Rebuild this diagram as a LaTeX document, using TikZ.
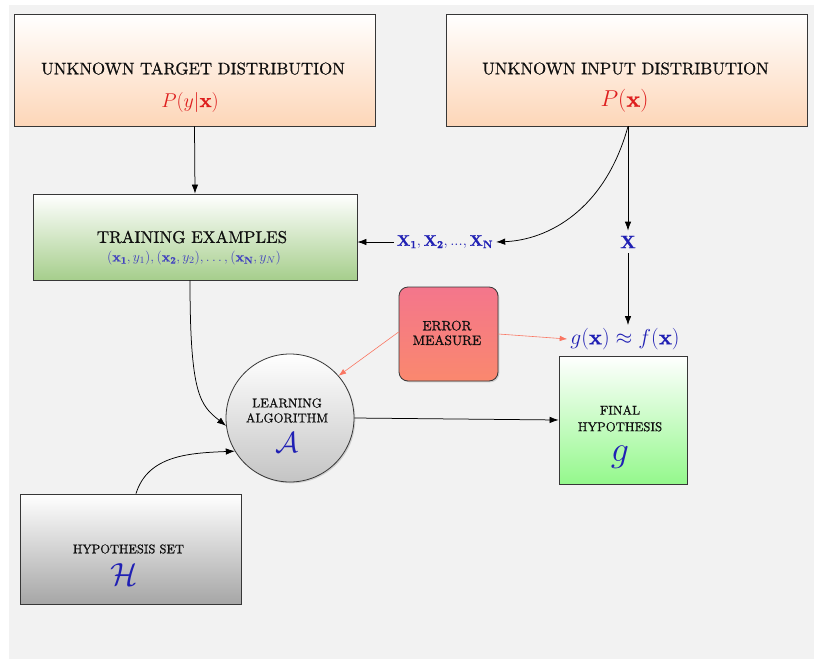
\RequirePackage{fix-cm}
\documentclass[tikz,border=0pt]{standalone}
\usepackage{fontspec}
% keep the 10pt design of Latin Modern at every size, a little heavier
\setmainfont{lmroman10-regular.otf}[FakeBold=0.7, BoldFont=lmroman10-bold.otf]
\usetikzlibrary{shadows,arrows.meta}

\definecolor{bgcol}{RGB}{242,242,242}
\definecolor{edgecol}{RGB}{55,55,55}
\definecolor{peach}{RGB}{253,214,184}
\definecolor{sage}{RGB}{166,206,140}
\definecolor{mint}{RGB}{148,248,140}
\definecolor{silver}{RGB}{196,196,196}
\definecolor{steel}{RGB}{166,166,166}
\definecolor{rosetop}{RGB}{244,118,140}
\definecolor{rosebot}{RGB}{250,136,110}
\definecolor{inkblue}{RGB}{32,32,180}
\definecolor{inkred}{RGB}{222,30,30}
\definecolor{salmon}{RGB}{250,118,98}
\definecolor{ink}{RGB}{15,15,15}

\begin{document}
\begin{tikzpicture}[x=1pt,y=1pt,
  box/.style={draw=edgecol, line width=0.8pt, inner sep=0pt,
    drop shadow={shadow xshift=1.3pt, shadow yshift=-1.3pt, opacity=0.3}},
  txt/.style={inner sep=0pt, align=center, text=ink},
  mtxt/.style={inner sep=0pt},
  arr/.style={-{Latex[length=9pt,width=6.5pt]}, line width=0.75pt, black},
  softarr/.style={-{Latex[length=7.5pt,width=5.5pt]}, line width=0.6pt, salmon},
  title/.style={txt, font=\fontsize{16.8}{20}\selectfont},
  small/.style={txt, font=\fontsize{12.8}{15}\selectfont}]

  % canvas
  \useasboundingbox (0,0) rectangle (814,-659);
  \fill[bgcol] (9,-5) rectangle (814,-659);

  % boxes
  \node[box, top color=white, bottom color=peach, minimum width=361pt, minimum height=112pt]
    (target) at (194.5,-70) {};
  \node[box, top color=white, bottom color=peach, minimum width=361pt, minimum height=112pt]
    (input) at (626.5,-70) {};
  \node[box, top color=white, bottom color=sage, minimum width=324pt, minimum height=86pt]
    (train) at (195,-237) {};
  \node[box, rounded corners=9pt, top color=rosetop, bottom color=rosebot,
    minimum width=99pt, minimum height=94pt] (error) at (448.5,-334) {};
  \node[box, circle, top color=white, bottom color=silver, minimum size=128pt]
    (algo) at (290,-418) {};
  \node[box, top color=white, bottom color=mint, minimum width=128pt, minimum height=128pt]
    (final) at (623,-420) {};
  \node[box, top color=white, bottom color=steel, minimum width=221pt, minimum height=110pt]
    (hypset) at (130.5,-549) {};

  % texts inside the boxes
  \node[title] (targetT) at (193,-68.5) {UNKNOWN TARGET DISTRIBUTION};
  \node[mtxt, text=inkred, font=\fontsize{20}{24}\selectfont] (targetM) at (190,-102) {$P(y|\mathbf{x})$};
  \node[title] (inputT) at (625.5,-68.5) {UNKNOWN INPUT DISTRIBUTION};
  \node[mtxt, text=inkred, font=\fontsize{23}{27}\selectfont] (inputM) at (624.5,-101) {$P(\mathbf{x})$};
  \node[txt, font=\fontsize{17}{20}\selectfont] (trainT) at (192,-237) {TRAINING EXAMPLES};
  \node[mtxt, text=inkblue!85, font=\fontsize{13.9}{16}\selectfont] (trainM) at (194,-258)
    {$(\mathbf{x_1},y_1),(\mathbf{x_2},y_2),\ldots,(\mathbf{x_N},y_N)$};
  \node[txt, font=\fontsize{13.5}{14.7}\selectfont] (errorT) at (447,-333) {ERROR\\MEASURE};
  \node[small] (algoT) at (287,-410.5) {LEARNING\\ALGORITHM};
  \node[mtxt, text=inkblue, font=\fontsize{29}{33}\selectfont] (algoM) at (287,-443) {$\mathcal{A}$};
  \node[txt, font=\fontsize{12.8}{16.5}\selectfont] (finalT) at (620,-418.5) {FINAL\\HYPOTHESIS};
  \node[mtxt, text=inkblue, font=\fontsize{36}{40}\selectfont] (finalM) at (620,-457) {$g$};
  \node[txt, font=\fontsize{12.5}{15}\selectfont] (hypsetT) at (128.5,-549) {HYPOTHESIS SET};
  \node[mtxt, text=inkblue, font=\fontsize{32}{36}\selectfont] (hypsetM) at (124,-575) {$\mathcal{H}$};

  % free labels
  \node[mtxt, text=inkblue, font=\fontsize{15.3}{18}\selectfont, inner sep=3pt] (xs) at (445,-242)
    {$\mathbf{X_1,X_2,...,X_N}$};
  \node[mtxt, text=inkblue, font=\fontsize{18}{21}\selectfont, inner sep=5pt] (xlab) at (628,-242) {$\mathbf{X}$};
  \node[mtxt, text=inkblue, font=\fontsize{21.6}{25}\selectfont, inner sep=3pt] (gf) at (625,-339)
    {$g(\mathbf{x})\approx f(\mathbf{x})$};

  % connectors
  \draw[arr] (target.south) -- (train.north);
  \draw[arr] (input.south -| xlab) -- (xlab.north);
  \draw[arr] (input.south -| xlab) .. controls (605,-210) and (548,-240) .. (xs.east);
  \draw[arr] (xs.west) -- (xs.west -| train.east);
  \draw[arr] (xlab.south) -- (gf.north -| xlab);
  \draw[arr] ([xshift=-5pt]train.south) .. controls (190,-395) and (200,-405) .. (algo.187);
  \draw[arr] ([xshift=5.5pt]hypset.north) .. controls (148,-455) and (190,-453) .. (algo.211);
  \draw[arr] (algo.east) -- (final.west);
  \draw[softarr] (error.east) -- (gf.west);
  \draw[softarr] ([yshift=2pt]error.west) -- (algo.41);
\end{tikzpicture}
\end{document}
